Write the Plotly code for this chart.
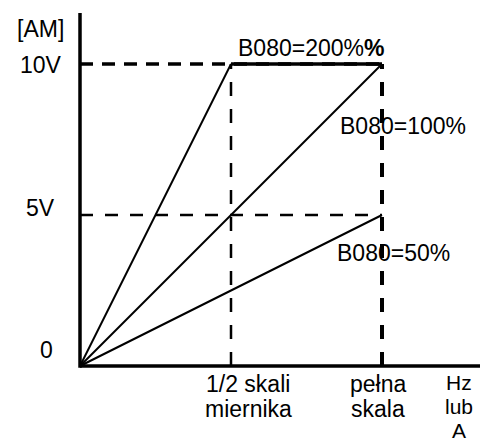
import plotly.graph_objects as go

# Meter output vs. frequency/current for several B080 gain settings
scale_pts = [0.0, 0.5, 1.0]          # origin, 1/2 meter scale, full scale
out_200 = [0.0, 10.0, 10.0]          # B080=200% (saturates at 10V)
out_100 = [0.0, 5.0, 10.0]           # B080=100%
out_50 = [0.0, 2.5, 5.0]             # B080=50%

guide_levels = [10.0, 5.0]           # horizontal guides (V)
guide_marks = [0.5, 1.0]             # vertical guides (scale)

y_tick_vals = [10.0, 5.0, 0.0]
y_tick_text = ["10V", "5V", "0"]
y_title = "[AM]"
series_text = ["B080=200%<b>%</b>", "B080=100%", "B080=50%"]
x_label_lines = [["1/2 skali", "miernika"], ["pełna", "skala"], ["Hz", "lub", "A"]]

W, H = 480, 443
X0_PX, X1_PX = 80, 382               # pixel of scale 0 and full scale
Y0_PX, Y10_PX = 366, 64              # pixel of 0V and 10V
sx = (X1_PX - X0_PX) / 1.0
sy = (Y0_PX - Y10_PX) / 10.0
x_range = [-X0_PX / sx, (W - X0_PX) / sx]
y_range = [-(H - Y0_PX) / sy, Y0_PX / sy]

FONT = "Liberation Sans, Arial, sans-serif"
FS = 23
BLACK = "#000000"

fig = go.Figure()

# dashed guides
fig.add_trace(go.Scatter(x=[0, guide_marks[1]], y=[guide_levels[0]] * 2, mode="lines",
                         line=dict(color=BLACK, width=3.5, dash="13px,9px")))
fig.add_trace(go.Scatter(x=[0, guide_marks[1]], y=[guide_levels[1]] * 2, mode="lines",
                         line=dict(color=BLACK, width=2.5, dash="13px,12px")))
fig.add_trace(go.Scatter(x=[guide_marks[0]] * 2, y=[0, guide_levels[0]], mode="lines",
                         line=dict(color=BLACK, width=2.5, dash="14px,13px")))
fig.add_trace(go.Scatter(x=[guide_marks[1]] * 2, y=[0, guide_levels[0]], mode="lines",
                         line=dict(color=BLACK, width=4, dash="14px,13px")))

# characteristic lines
fig.add_trace(go.Scatter(x=scale_pts[:2], y=out_200[:2], mode="lines",
                         line=dict(color=BLACK, width=2)))
fig.add_trace(go.Scatter(x=scale_pts[1:], y=out_200[1:], mode="lines",
                         line=dict(color=BLACK, width=3.5)))
fig.add_trace(go.Scatter(x=scale_pts, y=out_100, mode="lines",
                         line=dict(color=BLACK, width=2)))
fig.add_trace(go.Scatter(x=scale_pts, y=out_50, mode="lines",
                         line=dict(color=BLACK, width=2)))

# axis lines
top_v = (Y0_PX - 13) / sy
fig.add_shape(type="line", xref="x", yref="y", x0=0, x1=0, y0=-0.06, y1=top_v,
              line=dict(color=BLACK, width=3.5))
fig.add_shape(type="line", xref="x", yref="y", x0=0, x1=x_range[1], y0=0, y1=0,
              line=dict(color=BLACK, width=3.3))


def px(x):
    return x / W


def py(y):
    return 1 - y / H


def label(text, x, y, xanchor="center", size=FS):
    fig.add_annotation(text=text, x=px(x), y=py(y), xref="paper", yref="paper",
                       xanchor=xanchor, yanchor="middle", showarrow=False,
                       font=dict(family=FONT, size=size, color=BLACK))


label(y_title, 40, 29)
for txt, (lx, ly) in zip(y_tick_text, [(41, 65), (40, 208), (46, 350)]):
    label(txt, lx, ly)

for txt, (lx, ly) in zip(series_text, [(236, 48), (338, 126), (335, 253)]):
    label(txt, lx, ly, xanchor="left")

for lines, cx in zip(x_label_lines[:2], [248, 378]):
    for i, ln in enumerate(lines):
        label(ln, cx, 384 + 25 * i)

# unit column: slightly smaller so the three lines fit above the bottom edge
for i, ln in enumerate(x_label_lines[2]):
    label(ln, 459, 382 + 24 * i, size=21)

fig.update_layout(
    width=W, height=H, margin=dict(l=0, r=0, t=0, b=0),
    paper_bgcolor="white", plot_bgcolor="white", showlegend=False,
    xaxis=dict(range=x_range, visible=False, fixedrange=True),
    yaxis=dict(range=y_range, visible=False, fixedrange=True),
)

fig.write_html("out.html")
